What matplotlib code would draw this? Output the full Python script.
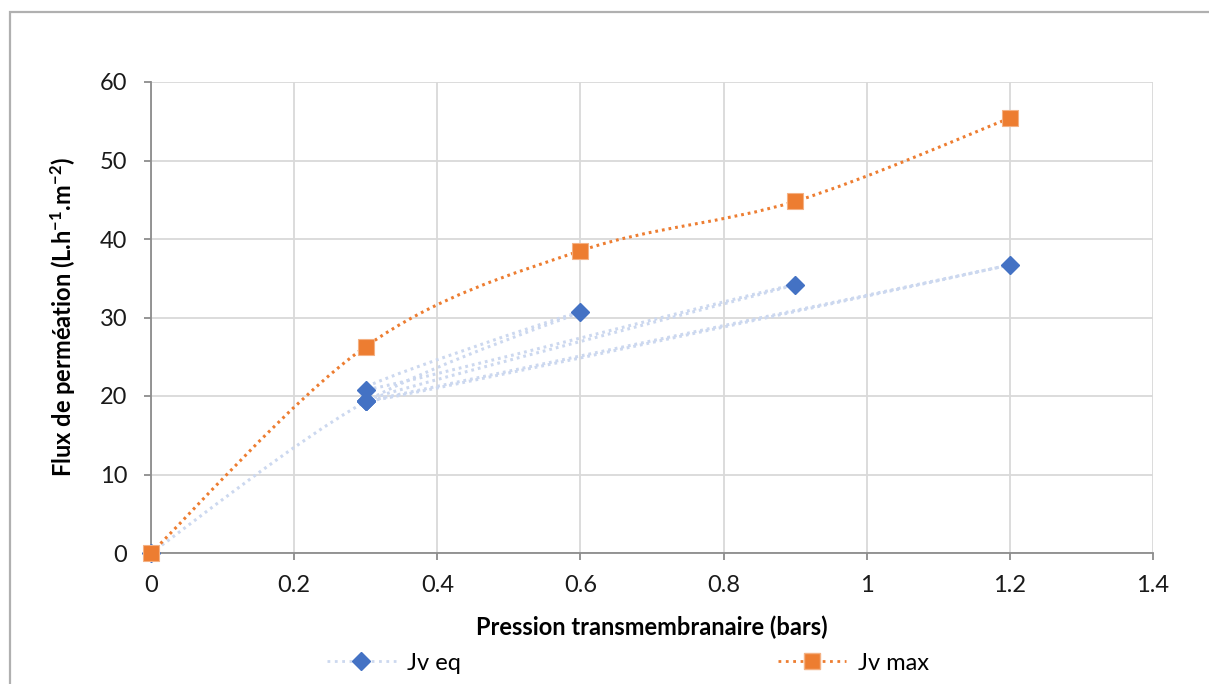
import numpy as np
import matplotlib.pyplot as plt
from matplotlib.path import Path
from matplotlib.patches import PathPatch, Rectangle
from matplotlib.lines import Line2D

# --- DATA ---
pression_max = [0, 0.3, 0.6, 0.9, 1.2]
jv_max = [0, 26.3, 38.5, 44.8, 55.4]

# Jv eq was entered out of order in the sheet, hence the back-and-forth lines
pression_eq = [0, 0.3, 0.6, 0.3, 0.9, 0.3, 1.2, 0.3]
jv_eq = [0, 19.3, 30.7, 20.8, 34.2, 19.3, 36.7, 19.3]

x_ticks = [0, 0.2, 0.4, 0.6, 0.8, 1, 1.2, 1.4]
x_tick_labels = ["0", "0.2", "0.4", "0.6", "0.8", "1", "1.2", "1.4"]
y_ticks = [0, 10, 20, 30, 40, 50, 60]

BLUE = '#4472C4'
BLUE_LINE = '#ccd8ef'
ORANGE = '#ED7D31'


def smooth_path(x, y):
    """Excel-like smoothed line: Catmull-Rom segments as cubic Beziers."""
    pts = np.column_stack([x, y]).astype(float)
    n = len(pts)
    verts = [pts[0]]
    codes = [Path.MOVETO]
    for i in range(n - 1):
        p0 = pts[max(i - 1, 0)]
        p1 = pts[i]
        p2 = pts[i + 1]
        p3 = pts[min(i + 2, n - 1)]
        verts += [p1 + (p2 - p0) / 6, p2 - (p3 - p1) / 6, p2]
        codes += [Path.CURVE4] * 3
    return Path(verts, codes)


plt.rcParams['font.family'] = ['Lato', 'DejaVu Sans']
plt.rcParams['mathtext.default'] = 'regular'

FS = 17

fig = plt.figure(figsize=(12.09, 6.84), dpi=100)
ax = fig.add_axes([151 / 1209, 1 - 553 / 684, (1153 - 151) / 1209, (553 - 82) / 684])

# outer chart frame
fig.patches.append(Rectangle((10 / 1209, -0.1), 1.2, 1.1 - 12 / 684,
                             transform=fig.transFigure, fill=False,
                             edgecolor='#b0b0b0', linewidth=1.6))

dots = (0, (0.9, 1.3))
ax.add_patch(PathPatch(smooth_path(pression_eq, jv_eq), facecolor='none',
                       edgecolor=BLUE_LINE, linewidth=2.2, linestyle=dots, zorder=2))
ax.add_patch(PathPatch(smooth_path(pression_max, jv_max), facecolor='none',
                       edgecolor=ORANGE, linewidth=2.2, linestyle=dots, zorder=3))

ax.plot(pression_eq, jv_eq, linestyle='none', marker='D', markersize=9,
        color=BLUE, zorder=4, clip_on=False)
ax.plot(pression_max, jv_max, linestyle='none', marker='s', markersize=11,
        color=ORANGE, markeredgecolor='#f4b183', markeredgewidth=0.8,
        zorder=5, clip_on=False)

ax.set_xlim(0, 1.4)
ax.set_ylim(0, 60)
ax.set_xticks(x_ticks)
ax.set_xticklabels(x_tick_labels)
ax.set_yticks(y_ticks)

ax.grid(True, color='#d9d9d9', linewidth=1.3)
ax.set_axisbelow(True)
for side in ('top', 'right'):
    ax.spines[side].set_visible(False)
for side in ('left', 'bottom'):
    ax.spines[side].set_color('#8c8c8c')
    ax.spines[side].set_linewidth(1.3)

ax.tick_params(axis='both', direction='out', length=5, width=1.3,
               color='#8c8c8c', labelsize=FS, labelcolor='#1a1a1a')
ax.tick_params(axis='y', pad=12)
ax.tick_params(axis='x', pad=11)

ax.set_xlabel("Pression transmembranaire (bars)", fontsize=FS,
              fontweight='bold', labelpad=14)
ax.set_ylabel("Flux de perméation (L.h$^{-1}$.m$^{-2}$)", fontsize=FS,
              fontweight='bold', labelpad=16)

handles = [
    Line2D([], [], color=BLUE_LINE, linestyle=':', linewidth=2, marker='D',
           markersize=9, markerfacecolor=BLUE, markeredgecolor=BLUE),
    Line2D([], [], color=ORANGE, linestyle=':', linewidth=2, marker='s',
           markersize=11, markerfacecolor=ORANGE, markeredgecolor='#f4b183'),
]
fig.legend(handles, ["Jv eq", "Jv max"], loc='center',
           bbox_to_anchor=(628 / 1209, 1 - 663 / 684), ncol=2, frameon=False,
           fontsize=FS, handlelength=2.9, handletextpad=0.5, columnspacing=13.4)

plt.savefig("out.png", dpi=100)
